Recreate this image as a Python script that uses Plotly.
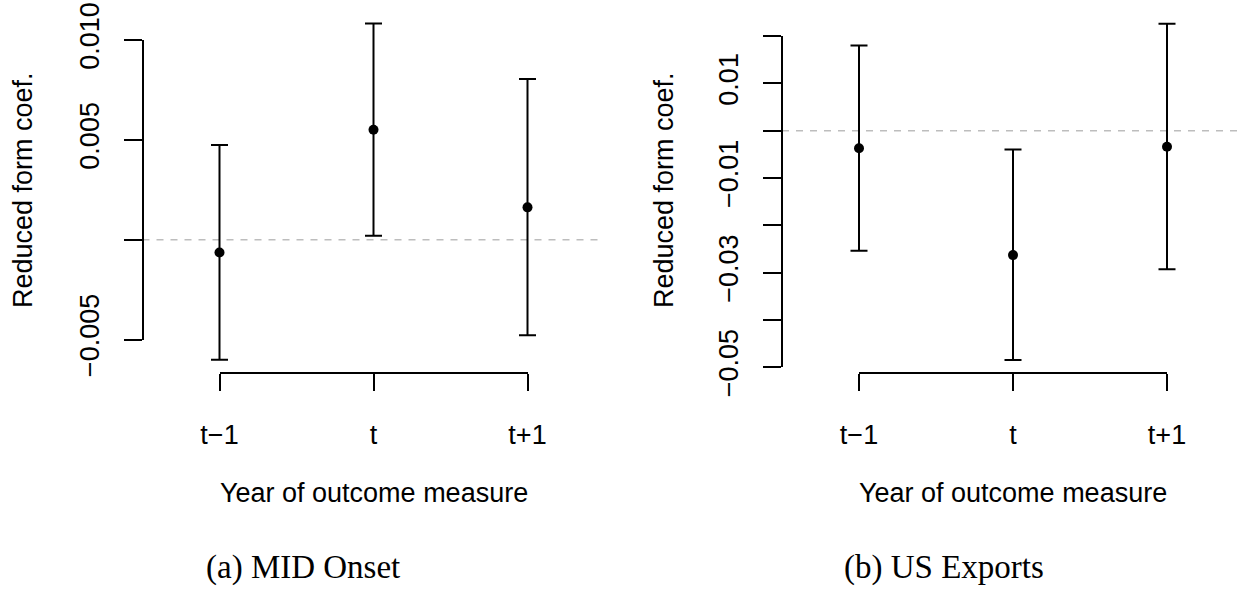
import plotly.graph_objects as go

# ---------------- data ----------------
periods = ["t−1", "t", "t+1"]
period_pos = [1, 2, 3]

mid_est = [-0.00064, 0.00551, 0.00162]
mid_lo = [-0.00602, 0.00020, -0.00479]
mid_hi = [0.00474, 0.01083, 0.00805]

exp_est = [-0.0037, -0.0263, -0.0034]
exp_lo = [-0.0254, -0.0485, -0.0293]
exp_hi = [0.0180, -0.0040, 0.0226]

mid_ticks = [-0.005, 0.0, 0.005, 0.010]
mid_ticktext = ["−0.005", "", "0.005", "0.010"]
exp_ticks = [-0.05, -0.04, -0.03, -0.02, -0.01, 0.0, 0.01, 0.02]
exp_ticktext = ["−0.05", "", "−0.03", "", "−0.01", "", "0.01", ""]

ref_value = 0.0
captions = ["(a) MID Onset", "(b) US Exports"]
xlab = "Year of outcome measure"
ylab = "Reduced form coef."

# ---------------- layout geometry (pixels) ----------------
W, H = 1245, 595
SANS = "Liberation Sans, Arial, Helvetica, sans-serif"
SERIF = "Liberation Serif, Times New Roman, serif"
FS = 27


def fx(px):
    return px / W


def fy(py):
    return 1 - py / H


panels = [
    dict(est=mid_est, lo=mid_lo, hi=mid_hi, ticks=mid_ticks, ticktext=mid_ticktext,
         left=142.5, step=154.0, zero=239.7, ppu=99.8 / 0.005, cap_x=303, ylab_x=23),
    dict(est=exp_est, lo=exp_lo, hi=exp_hi, ticks=exp_ticks, ticktext=exp_ticktext,
         left=782.0, step=154.0, zero=130.7, ppu=47.3 / 0.01, cap_x=944, ylab_x=664),
]

DATA_TOP, DATA_BOT = 8, 385
XAXIS_PY = 373.3

fig = go.Figure()
layout = dict(
    template="none",
    width=W, height=H, autosize=False,
    margin=dict(l=0, r=0, t=0, b=0, pad=0, autoexpand=False),
    paper_bgcolor="white", plot_bgcolor="rgba(0,0,0,0)",
    showlegend=False, annotations=[], shapes=[],
)

for i, p in enumerate(panels):
    n = i + 1
    xa = "x" if n == 1 else f"x{n}"
    ya = "y" if n == 1 else f"y{n}"
    vx = f"x{n + 2}"
    vy = f"y{n + 2}"

    # invisible data axes
    xr = [0.5, len(periods) + 0.5]
    x_dom = [fx(p["left"]), min(1.0, fx(p["left"] + (xr[1] - xr[0]) * p["step"]))]
    x_range_hi = xr[0] + (x_dom[1] * W - p["left"]) / p["step"]
    y_range = [(p["zero"] - DATA_BOT) / p["ppu"], (p["zero"] - DATA_TOP) / p["ppu"]]
    layout["xaxis" if n == 1 else f"xaxis{n}"] = dict(
        domain=x_dom, range=[xr[0], x_range_hi], visible=False, anchor=ya,
        automargin=False)
    layout["yaxis" if n == 1 else f"yaxis{n}"] = dict(
        domain=[fy(DATA_BOT), fy(DATA_TOP)], range=y_range, visible=False,
        anchor=xa, automargin=False)

    # reference line
    fig.add_trace(go.Scatter(
        x=xr, y=[ref_value, ref_value], mode="lines", xaxis=xa, yaxis=ya,
        line=dict(color="#bdbdbd", width=1.5, dash="7px,7px"), hoverinfo="skip"))

    # points with intervals
    plus = [h - e for h, e in zip(p["hi"], p["est"])]
    minus = [e - l for e, l in zip(p["est"], p["lo"])]
    fig.add_trace(go.Scatter(
        x=period_pos, y=p["est"], mode="markers", xaxis=xa, yaxis=ya,
        marker=dict(color="black", size=10),
        error_y=dict(type="data", symmetric=False, array=plus, arrayminus=minus,
                     color="black", thickness=2, width=8.5)))

    # visible R-style axes
    tmin, tmax = min(p["ticks"]), max(p["ticks"])
    vy_dom = [fy(p["zero"] - tmin * p["ppu"]), fy(p["zero"] - tmax * p["ppu"])]
    x1px = p["left"] + (period_pos[0] - xr[0]) * p["step"]
    x3px = p["left"] + (period_pos[-1] - xr[0]) * p["step"]
    layout[f"xaxis{n + 2}"] = dict(
        domain=[fx(x1px), fx(x3px)], range=[period_pos[0], period_pos[-1]],
        anchor="free", position=fy(XAXIS_PY), side="bottom", automargin=False,
        showline=True, linecolor="black", linewidth=2, mirror=False,
        ticks="outside", ticklen=17, tickwidth=2, tickcolor="black",
        tickmode="array", tickvals=period_pos, ticktext=periods,
        tickfont=dict(family=SANS, size=FS, color="black"),
        ticklabelstandoff=20, showgrid=False, zeroline=False)
    layout[f"yaxis{n + 2}"] = dict(
        domain=vy_dom, range=[tmin, tmax],
        anchor="free", position=fx(p["left"]), side="left", automargin=False,
        showline=True, linecolor="black", linewidth=2,
        ticks="outside", ticklen=18, tickwidth=2, tickcolor="black",
        tickmode="array", tickvals=p["ticks"], ticktext=p["ticktext"],
        tickangle=-90, tickfont=dict(family=SANS, size=FS, color="black"),
        ticklabelstandoff=14, showgrid=False, zeroline=False)
    fig.add_trace(go.Scatter(x=[None], y=[None], xaxis=vx, yaxis=vy,
                             mode="markers", hoverinfo="skip"))

    # titles
    xcenter = (x1px + x3px) / 2 / W
    layout["annotations"] += [
        dict(text=xlab, x=xcenter, y=fy(493), xref="paper", yref="paper",
             showarrow=False, xanchor="center", yanchor="middle",
             font=dict(family=SANS, size=FS, color="black")),
        dict(text=ylab, x=fx(p["ylab_x"]), y=fy(190), xref="paper", yref="paper",
             showarrow=False, xanchor="center", yanchor="middle", textangle=-90,
             font=dict(family=SANS, size=FS, color="black")),
        dict(text=captions[i], x=fx(p["cap_x"]), y=fy(567), xref="paper", yref="paper",
             showarrow=False, xanchor="center", yanchor="middle",
             font=dict(family=SERIF, size=33, color="black")),
    ]

fig.update_layout(**layout)
fig.write_html("out.html", config={"displayModeBar": False},
               post_script="document.body.style.margin='0px';")
